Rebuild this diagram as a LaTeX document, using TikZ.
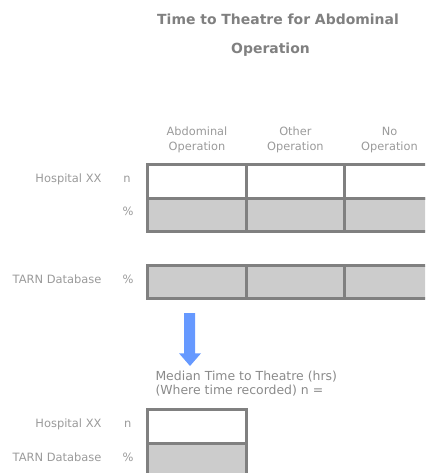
\documentclass[tikz,border=0pt]{standalone}
\usepackage{fontspec}
\setmainfont{DejaVu Sans}
\definecolor{framegray}{HTML}{808080}
\definecolor{cellgray}{HTML}{CCCCCC}
\definecolor{labelgray}{HTML}{9A9A9A}
\definecolor{notegray}{HTML}{8A8A8A}
\definecolor{titlegray}{HTML}{808080}
\definecolor{arrowblue}{HTML}{6699FF}
\tikzset{
  cell/.style={draw=framegray, line width=3bp, minimum width=98.5bp,
    minimum height=#1, inner sep=0pt, outer sep=0pt, fill=white},
  cell/.default=34bp,
  shaded/.style={fill=cellgray},
  titletext/.style={font=\fontsize{14}{16}\selectfont\bfseries, text=titlegray, inner sep=0pt},
  headtext/.style={font=\fontsize{11.4}{15}\selectfont, text=labelgray, inner sep=0pt, align=center},
  rowtext/.style={font=\fontsize{11.5}{14}\selectfont, text=labelgray, inner sep=0pt},
  notetext/.style={font=\fontsize{12.5}{14}\selectfont, text=notegray, inner sep=0pt},
}
\begin{document}
\begin{tikzpicture}[x=1bp, y=-1bp]
\useasboundingbox (0,0) rectangle (425,473);
\clip (0,0) rectangle (425,473);

% title
\node[titletext, anchor=mid] (title1) at (278,21.7) {Time to Theatre for Abdominal};
\node[titletext, anchor=mid] (title2) at (270.5,50.7) {Operation};

% column headings
\node[headtext] (hA) at (197,139.8) {Abdominal\\Operation};
\node[headtext] (hB) at (295.4,139.8) {Other\\Operation};
\node[headtext] (hC) at (389.5,139.8) {No\\Operation};

% hospital table
\node[cell=34bp] (h1a) at (196.75,181.5) {};
\node[cell=34bp] (h1b) at (295.25,181.5) {};
\node[cell=34bp] (h1c) at (393.75,181.5) {};
\node[cell=33bp, shaded] (h2a) at (196.75,215) {};
\node[cell=33bp, shaded] (h2b) at (295.25,215) {};
\node[cell=33bp, shaded] (h2c) at (393.75,215) {};

% database table
\node[cell=33bp, shaded] (t1a) at (196.75,282) {};
\node[cell=33bp, shaded] (t1b) at (295.25,282) {};
\node[cell=33bp, shaded] (t1c) at (393.75,282) {};

% row labels
\node[rowtext, anchor=mid east] (lh) at (101.7,180) {Hospital XX};
\node[rowtext, anchor=mid] (ln) at (127,180) {n};
\node[rowtext, anchor=mid] (lp) at (128,212.5) {\%};
\node[rowtext, anchor=mid east] (lt) at (101.7,281) {TARN Database};
\node[rowtext, anchor=mid] (ltp) at (128,281) {\%};

% down arrow
\fill[arrowblue] (184,313) -- (195,313) -- (195,353.3) -- (201,353.3)
  -- (190,366) -- (179,353.3) -- (184,353.3) -- cycle;

% median note
\node[notetext, anchor=mid west] (m1) at (155.3,377.7) {Median Time to Theatre (hrs)};
\node[notetext, anchor=mid west] (m2) at (155.3,391.7) {(Where time recorded) n =};

% median table
\node[cell=34bp] (b1) at (197,426.5) {};
\node[cell=34bp, shaded] (b2) at (197,460.5) {};
\node[rowtext, anchor=mid east] (bh) at (101.7,425) {Hospital XX};
\node[rowtext, anchor=mid] (bn) at (127.7,425) {n};
\node[rowtext, anchor=mid east] (bt) at (101.7,458.3) {TARN Database};
\node[rowtext, anchor=mid] (bp) at (128,458.3) {\%};
\end{tikzpicture}
\end{document}
